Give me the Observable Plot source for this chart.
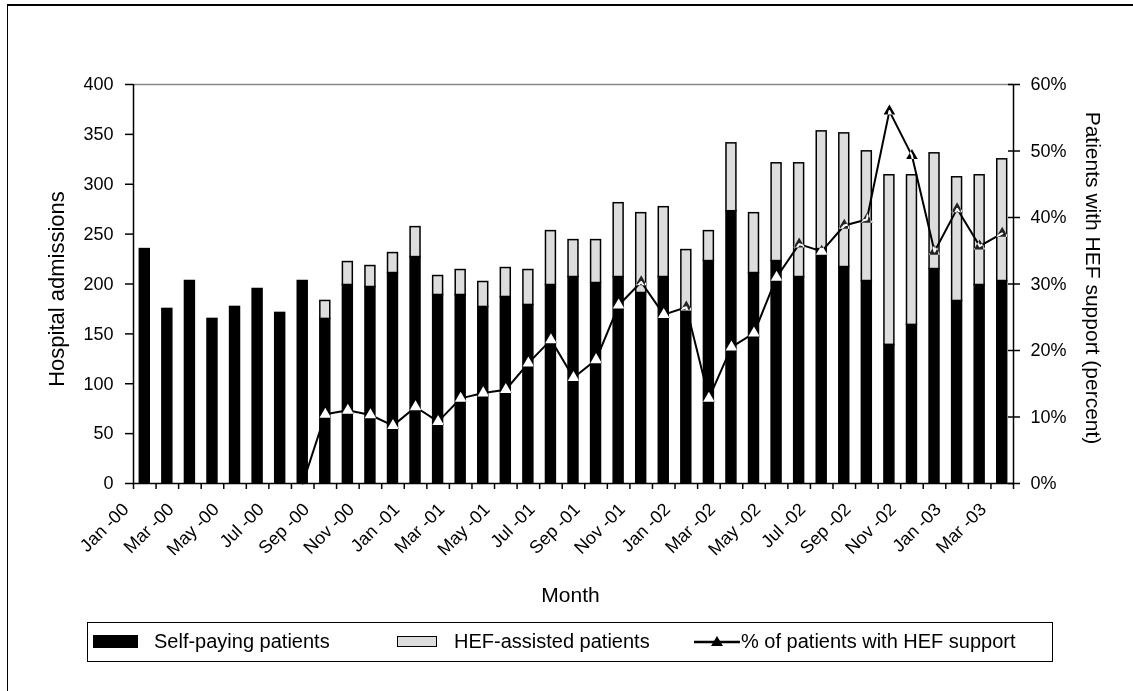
<!DOCTYPE html>
<html><head><meta charset="utf-8">
<script src="https://cdn.jsdelivr.net/npm/d3@7"></script>
<script src="https://cdn.jsdelivr.net/npm/@observablehq/plot@0.6"></script>
<style>
body{margin:0;background:#fff;font-family:"Liberation Sans",Arial,sans-serif;}
#page{position:relative;width:1133px;height:691px;overflow:hidden;background:#fff;}
#frame{position:absolute;left:7px;top:4px;width:1140px;height:700px;border-left:1.5px solid #000;border-top:2px solid #000;pointer-events:none;}
#chart{position:absolute;left:0;top:0;}
#legend{position:absolute;left:87px;top:622px;width:964px;height:38px;border:1.5px solid #000;background:#fff;}
#legend .t{position:absolute;top:8px;font-size:20px;line-height:20px;white-space:nowrap;color:#000;}
#legend .sw{position:absolute;}
</style>
</head><body>
<div id="page">
  <div id="chart"></div>
  <div id="legend">
    <div class="sw" style="left:5px;top:12px;width:45px;height:13px;background:#000;"></div>
    <div class="t" style="left:66px;">Self-paying patients</div>
    <div class="sw" style="left:309px;top:13px;width:38px;height:9px;background:#ddd;border:1.5px solid #000;"></div>
    <div class="t" style="left:366px;">HEF-assisted patients</div>
    <svg class="sw" style="left:606px;top:10px;" width="46" height="18"><line x1="0" y1="9" x2="46" y2="9" stroke="#000" stroke-width="2.5"/><path d="M23,3 L29,13 L17,13 Z" fill="#000"/></svg>
    <div class="t" style="left:653px;">% of patients with HEF support</div>
  </div>
  <div id="frame"></div>
</div>
<script>
const months = ["Jan -00","Feb -00","Mar -00","Apr -00","May -00","Jun -00","Jul -00","Aug -00","Sep -00","Oct -00","Nov -00","Dec -00",
  "Jan -01","Feb -01","Mar -01","Apr -01","May -01","Jun -01","Jul -01","Aug -01","Sep -01","Oct -01","Nov -01","Dec -01",
  "Jan -02","Feb -02","Mar -02","Apr -02","May -02","Jun -02","Jul -02","Aug -02","Sep -02","Oct -02","Nov -02","Dec -02",
  "Jan -03","Feb -03","Mar -03"];
const selfPaying = [235,175,203,165,177,195,171,203,165,199,197,211,
  227,189,189,177,187,179,199,207,201,207,191,207,
  173,223,273,211,223,207,235,217,203,139,159,215,
  183,199,203];
const hefAssisted = [0,0,0,0,0,0,0,0,18,23,21,20,
  30,19,25,25,29,35,54,37,43,74,80,70,
  61,30,68,60,98,114,118,134,130,170,150,116,
  124,110,122];
const hefPct = [null,null,null,null,null,null,null,0,10.4,11.0,10.3,8.7,
  11.5,9.3,12.8,13.6,14.1,18.1,21.6,15.9,18.6,26.8,30.3,25.4,
  26.5,12.8,20.5,22.6,31.0,36.0,34.9,38.8,39.7,56.0,49.3,34.9,
  41.3,35.7,37.6];
const leftTicks = [0,50,100,150,200,250,300,350,400];
const rightTicks = [0,10,20,30,40,50,60];
const seriesNames = ["Self-paying patients","HEF-assisted patients"];

const W = 1133, H = 610, mL = 133, mR = 120, mT = 84, mB = 127;
const step = (W - mL - mR) / months.length;
const k = 400 / 60;
const font = "Liberation Sans, Arial, sans-serif";

const rows = months.flatMap((m, i) => [
  {month: m, type: seriesNames[0], value: selfPaying[i]},
  {month: m, type: seriesNames[1], value: hefAssisted[i]}
]);
const pctRows = months.map((m, i) => ({month: m, pct: hefPct[i]})).filter(d => d.pct != null);
const markerRows = pctRows.filter(d => d.pct > 0);
const labelMonths = months.filter((m, i) => i % 2 === 0);
const last = months[months.length - 1];

const chart = Plot.plot({
  width: W, height: H,
  marginLeft: mL, marginRight: mR, marginTop: mT, marginBottom: mB,
  style: {fontFamily: font, background: "transparent", overflow: "visible", color: "#000"},
  x: {type: "band", domain: months, paddingInner: 0.56, paddingOuter: 0.28, round: false, label: null},
  y: {domain: [0, 400], label: null},
  color: {domain: seriesNames, range: ["#000000", "#dddddd"]},
  marks: [
    Plot.frame({fill: "white", stroke: null}),
    Plot.ruleY([400], {stroke: "#888", strokeWidth: 1.5}),
    Plot.barY(rows, {x: "month", y: "value", fill: "type", stroke: "#000", strokeWidth: 1.5}),
    Plot.line(pctRows, {x: "month", y: d => d.pct * k, stroke: "#000", strokeWidth: 2}),
    Plot.dot(markerRows, {x: "month", y: d => d.pct * k, symbol: "triangle", r: 4.3, fill: "white", stroke: null, mixBlendMode: "difference"}),
    Plot.ruleY([0], {stroke: "#000", strokeWidth: 1.5}),
    Plot.ruleX([months[0]], {y1: 0, y2: 400, dx: -step / 2, strokeWidth: 1.5}),
    Plot.ruleX([last], {y1: 0, y2: 400, dx: step / 2, strokeWidth: 1.5}),
    Plot.axisY({anchor: "left", ticks: leftTicks, tickSize: 8, tickPadding: 12, fontSize: 18, strokeWidth: 1.5, label: null}),
    Plot.axisY({anchor: "right", ticks: rightTicks.map(p => p * k), tickSize: 12, dx: -6, tickFormat: () => "", strokeWidth: 1.5, label: null}),
    Plot.axisY({anchor: "right", ticks: rightTicks.map(p => p * k), tickSize: 0, tickPadding: 17, tickFormat: v => Math.round(v / k) + "%", fontSize: 18, label: null}),
    Plot.axisX({ticks: months, tickSize: 6, tickFormat: () => "", dx: -step / 2, strokeWidth: 1.5, label: null}),
    Plot.axisX({ticks: [last], tickSize: 6, tickFormat: () => "", dx: step / 2, strokeWidth: 1.5, label: null}),
    Plot.text(labelMonths, {x: d => d, frameAnchor: "bottom", text: d => d, rotate: -45, textAnchor: "end", dx: -15, dy: 27, fontSize: 18}),
    Plot.text(["Hospital admissions"], {frameAnchor: "left", text: d => d, rotate: -90, textAnchor: "middle", dx: -77, dy: 5, fontSize: 22}),
    Plot.text(["Patients with HEF support (percent)"], {frameAnchor: "right", text: d => d, rotate: 90, textAnchor: "middle", dx: 79, dy: -6, fontSize: 21}),
    Plot.text(["Month"], {frameAnchor: "bottom", text: d => d, dx: -3, dy: 118, fontSize: 21})
  ]
});
document.getElementById("chart").appendChild(chart);
</script>
</body></html>
